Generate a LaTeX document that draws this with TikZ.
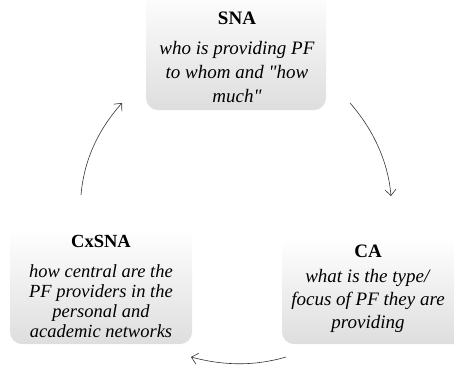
\documentclass[tikz,border=0pt]{standalone}
\usepackage{fontspec}
\setmainfont{Liberation Serif}
\usetikzlibrary{arrows.meta}
\begin{document}
\begin{tikzpicture}[x=1pt,y=-1pt,
  boxstyle/.style={rounded corners=12pt, top color=white, middle color=white, bottom color=black!13, draw=none},
  txt/.style={align=center, anchor=north, inner sep=0pt},
  arr/.style={draw=black!80, line width=0.6pt, -{Straight Barb[length=6pt,width=11pt]}}]
\useasboundingbox (0,0) rectangle (454,365);
% boxes
\path[boxstyle] (146,-12) rectangle (326,110);
\path[boxstyle] (282,238) rectangle (470,344);
\path[boxstyle] (10,228) rectangle (192,344);
% texts
\node[txt, font=\fontsize{19}{24}\selectfont] (sna) at (237,12) {\textbf{SNA}\\[6pt] \textit{who is providing PF}\\ \textit{to whom and \textquotedbl how}\\ \textit{much\textquotedbl}};
\node[txt, font=\fontsize{19}{23}\selectfont] (ca) at (368,245) {\textbf{CA}\\[2pt] \textit{what is the type/}\\ \textit{focus of PF they are}\\ \textit{providing}};
\node[txt, font=\fontsize{18.5}{19.8}\selectfont] (cx) at (101,235.5) {\textbf{CxSNA}\\[10pt] \textit{how central are the}\\ \textit{PF providers in the}\\ \textit{personal and}\\ \textit{academic networks}};
% arrows
\coordinate (a1s) at (350,103);
\coordinate (a1e) at (391,196);
\coordinate (a2s) at (286,357);
\coordinate (a2e) at (191,357);
\coordinate (a3s) at (81,195);
\coordinate (a3e) at (122,103);
\draw[arr] (a1s) .. controls (372,128) and (388,160) .. (a1e);
\draw[arr] (a2s) .. controls (255,366) and (225,366) .. (a2e);
\draw[arr] (a3s) .. controls (84,160) and (98,130) .. (a3e);
\end{tikzpicture}
\end{document}
